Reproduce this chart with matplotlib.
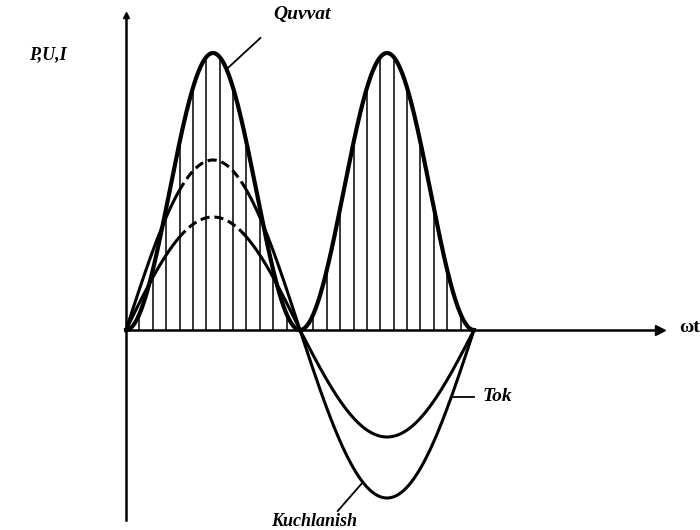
import numpy as np
import matplotlib
matplotlib.use("Agg")
import matplotlib.pyplot as plt

# ---- data (x: ωt in degrees, y: drawing units) ----
half_cycles = ["0-180", "180-360"]
half_start_deg = [0, 180]
voltage_peaks = [170, -168]      # Kuchlanish
current_peaks = [113, -107]      # Tok
power_peaks = [277, 277]         # Quvvat
hatch_count_per_period = 26
dashed_span_deg = [55, 122]      # dashed part of U and I in first half
labels = {"power": "Quvvat", "current": "Tok", "voltage": "Kuchlanish",
          "y": "P,U,I", "x": "ωt"}

fig = plt.figure(figsize=(7, 5.3), dpi=100)
ax = fig.add_axes([0, 0, 1, 1])
px_per_deg = 0.9667
ax.set_xlim(-126 / px_per_deg, (700 - 126) / px_per_deg)
ax.set_ylim(-200, 330)

font = dict(family="Liberation Serif", weight="bold", style="italic")

def half(i, n=361):
    th = np.linspace(half_start_deg[i], half_start_deg[i] + 180, n)
    return th, np.abs(np.sin(np.radians(th)))

# voltage & current
for peaks, lw in [(voltage_peaks, 2.2), (current_peaks, 2.2)]:
    for i in range(len(half_cycles)):
        th, s = half(i)
        y = peaks[i] * s
        if i == 0:
            a, b = dashed_span_deg
            m1 = th <= a
            m2 = (th >= a) & (th <= b)
            m3 = th >= b
            ax.plot(th[m1], y[m1], color="black", lw=lw, solid_capstyle="round")
            ax.plot(th[m2], y[m2], color="black", lw=lw, dashes=(3, 1.6))
            ax.plot(th[m3], y[m3], color="black", lw=lw, solid_capstyle="round")
        else:
            ax.plot(th, y, color="black", lw=lw)

# power
for i in range(len(half_cycles)):
    th, s = half(i)
    ax.plot(th, power_peaks[i] * s ** 2, color="black", lw=3.0)

# hatching under power curve
step = 360 / hatch_count_per_period
ph = np.array([k * step for k in range(1, hatch_count_per_period)
               if k != hatch_count_per_period // 2])
idx = (ph >= 180).astype(int)
pk = np.array(power_peaks)[idx]
ax.vlines(ph, 0, pk * np.sin(np.radians(ph)) ** 2, color="black", lw=1.1)

# axes through origin
for side in ["top", "right"]:
    ax.spines[side].set_visible(False)
ax.spines["left"].set_position(("data", 0))
ax.spines["bottom"].set_position(("data", 0))
ax.spines["left"].set_bounds(-190, 315)
ax.spines["bottom"].set_bounds(0, 552)
ax.spines["left"].set_linewidth(1.8)
ax.spines["bottom"].set_linewidth(1.8)
ax.set_xticks([])
ax.set_yticks([])
ax.plot(552, 0, marker=">", color="black", ms=7, clip_on=False)
ax.plot(0, 315, marker="^", color="black", ms=5, clip_on=False)

# labels
ax.text(-81, 275, labels["y"], fontsize=13, ha="center", va="center", **font)
ax.text(583, 3, labels["x"], fontsize=14, ha="center", va="center",
        family="Liberation Serif", weight="bold")
ax.text(182, 315, labels["power"], fontsize=14, ha="center", va="center", **font)
ax.plot([139, 104], [292, power_peaks[0] * np.sin(np.radians(104)) ** 2],
        color="black", lw=1.3)

tok_deg = 336.5
tok_y = voltage_peaks[1] * abs(np.sin(np.radians(tok_deg)))
ax.text(369, tok_y, labels["current"], fontsize=14, ha="left", va="center", **font)
ax.plot([360, tok_deg], [tok_y, tok_y], color="black", lw=1.3)

ax.text(195, -191, labels["voltage"], fontsize=13, ha="center", va="center", **font)
ax.plot([219, 245], [-181, voltage_peaks[1] * abs(np.sin(np.radians(245)))],
        color="black", lw=1.3)

fig.savefig("out.png", dpi=100, facecolor="white")
